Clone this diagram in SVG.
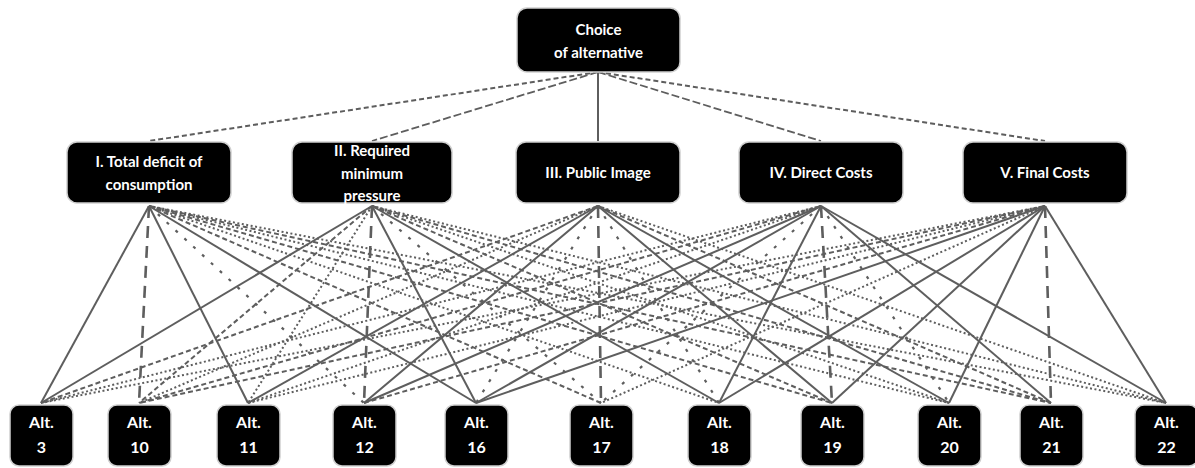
<svg xmlns="http://www.w3.org/2000/svg" width="1195" height="468" viewBox="0 0 1195 468">
<style>
.box{fill:#000;stroke:#cfcfcf;stroke-width:1.5}
.lbl{fill:#fff;font-family:Lato,"Liberation Sans",sans-serif;font-weight:bold;font-size:15px;text-anchor:middle}
.alt{font-size:16px}
line{stroke:#5e5e5e;fill:none}
.s{stroke-width:2}
.d{stroke-width:2;stroke-dasharray:5 3}
.t{stroke-width:2;stroke-dasharray:2 2.5}
.p{stroke-width:2.2;stroke-dasharray:3 9}
.l{stroke-width:2.6;stroke-dasharray:12 8}
.m{stroke-width:1.8;stroke-dasharray:8 3}
</style>
<rect width="1195" height="468" fill="#fff"/>
<g id="connectors">
<line class="d" x1="598" y1="72" x2="149" y2="141"/>
<line class="m" x1="598" y1="72" x2="372" y2="141"/>
<line class="s" x1="598" y1="72" x2="598" y2="141"/>
<line class="m" x1="598" y1="72" x2="821" y2="141"/>
<line class="d" x1="598" y1="72" x2="1045" y2="141"/>
<!-- I -->
<line class="s" x1="149" y1="206" x2="41" y2="403"/>
<line class="l" x1="149" y1="206" x2="139" y2="403"/>
<line class="s" x1="149" y1="206" x2="248" y2="403"/>
<line class="p" x1="149" y1="206" x2="364" y2="403"/>
<line class="s" x1="149" y1="206" x2="476" y2="403"/>
<line class="d" x1="149" y1="206" x2="601" y2="403"/>
<line class="t" x1="149" y1="206" x2="719" y2="403"/>
<line class="d" x1="149" y1="206" x2="832" y2="403"/>
<line class="t" x1="149" y1="206" x2="949" y2="403"/>
<line class="d" x1="149" y1="206" x2="1051" y2="403"/>
<line class="t" x1="149" y1="206" x2="1166" y2="403"/>
<!-- II -->
<line class="s" x1="372" y1="206" x2="41" y2="403"/>
<line class="d" x1="372" y1="206" x2="139" y2="403"/>
<line class="t" x1="372" y1="206" x2="248" y2="403"/>
<line class="l" x1="372" y1="206" x2="364" y2="403"/>
<line class="s" x1="372" y1="206" x2="476" y2="403"/>
<line class="p" x1="372" y1="206" x2="601" y2="403"/>
<line class="s" x1="372" y1="206" x2="719" y2="403"/>
<line class="d" x1="372" y1="206" x2="832" y2="403"/>
<line class="t" x1="372" y1="206" x2="949" y2="403"/>
<line class="d" x1="372" y1="206" x2="1051" y2="403"/>
<line class="t" x1="372" y1="206" x2="1166" y2="403"/>
<!-- III -->
<line class="d" x1="598" y1="206" x2="41" y2="403"/>
<line class="t" x1="598" y1="206" x2="139" y2="403"/>
<line class="s" x1="598" y1="206" x2="248" y2="403"/>
<line class="s" x1="598" y1="206" x2="364" y2="403"/>
<line class="p" x1="598" y1="206" x2="476" y2="403"/>
<line class="l" x1="598" y1="206" x2="601" y2="403"/>
<line class="p" x1="598" y1="206" x2="719" y2="403"/>
<line class="s" x1="598" y1="206" x2="832" y2="403"/>
<line class="s" x1="598" y1="206" x2="949" y2="403"/>
<line class="d" x1="598" y1="206" x2="1051" y2="403"/>
<line class="t" x1="598" y1="206" x2="1166" y2="403"/>
<!-- IV -->
<line class="t" x1="821" y1="206" x2="41" y2="403"/>
<line class="d" x1="821" y1="206" x2="139" y2="403"/>
<line class="t" x1="821" y1="206" x2="248" y2="403"/>
<line class="s" x1="821" y1="206" x2="364" y2="403"/>
<line class="s" x1="821" y1="206" x2="476" y2="403"/>
<line class="p" x1="821" y1="206" x2="601" y2="403"/>
<line class="s" x1="821" y1="206" x2="719" y2="403"/>
<line class="l" x1="821" y1="206" x2="832" y2="403"/>
<line class="p" x1="821" y1="206" x2="949" y2="403"/>
<line class="s" x1="821" y1="206" x2="1051" y2="403"/>
<line class="s" x1="821" y1="206" x2="1166" y2="403"/>
<!-- V -->
<line class="t" x1="1045" y1="206" x2="41" y2="403"/>
<line class="d" x1="1045" y1="206" x2="139" y2="403"/>
<line class="t" x1="1045" y1="206" x2="248" y2="403"/>
<line class="d" x1="1045" y1="206" x2="364" y2="403"/>
<line class="s" x1="1045" y1="206" x2="476" y2="403"/>
<line class="t" x1="1045" y1="206" x2="601" y2="403"/>
<line class="s" x1="1045" y1="206" x2="719" y2="403"/>
<line class="s" x1="1045" y1="206" x2="832" y2="403"/>
<line class="s" x1="1045" y1="206" x2="949" y2="403"/>
<line class="l" x1="1045" y1="206" x2="1051" y2="403"/>
<line class="s" x1="1045" y1="206" x2="1166" y2="403"/>
</g>
<g id="goal"><rect class="box" x="517" y="8" width="163" height="64" rx="10"/><text class="lbl" x="598.5" y="35">Choice</text><text class="lbl" x="598.5" y="58">of alternative</text></g>
<g id="c1"><rect class="box" x="67" y="142" width="164" height="61" rx="10"/><text class="lbl" x="149" y="167">I. Total deficit of</text><text class="lbl" x="149" y="190">consumption</text></g>
<g id="c2"><rect class="box" x="292" y="142" width="160" height="61" rx="10"/><text class="lbl" x="372" y="156">II. Required</text><text class="lbl" x="372" y="179">minimum</text><text class="lbl" x="372" y="201">pressure</text></g>
<g id="c3"><rect class="box" x="516" y="142" width="164" height="61" rx="10"/><text class="lbl" x="598" y="178">III. Public Image</text></g>
<g id="c4"><rect class="box" x="739" y="142" width="164" height="61" rx="10"/><text class="lbl" x="821" y="178">IV. Direct Costs</text></g>
<g id="c5"><rect class="box" x="963" y="142" width="164" height="61" rx="10"/><text class="lbl" x="1045" y="178">V. Final Costs</text></g>
<g id="a3"><rect class="box" x="10" y="405" width="63" height="61" rx="9"/><text class="lbl alt" x="41.5" y="428">Alt.</text><text class="lbl alt" x="41.5" y="453">3</text></g>
<g id="a10"><rect class="box" x="108" y="405" width="63" height="61" rx="9"/><text class="lbl alt" x="139.5" y="428">Alt.</text><text class="lbl alt" x="139.5" y="453">10</text></g>
<g id="a11"><rect class="box" x="217" y="405" width="63" height="61" rx="9"/><text class="lbl alt" x="248.5" y="428">Alt.</text><text class="lbl alt" x="248.5" y="453">11</text></g>
<g id="a12"><rect class="box" x="333" y="405" width="63" height="61" rx="9"/><text class="lbl alt" x="364.5" y="428">Alt.</text><text class="lbl alt" x="364.5" y="453">12</text></g>
<g id="a16"><rect class="box" x="445" y="405" width="63" height="61" rx="9"/><text class="lbl alt" x="476.5" y="428">Alt.</text><text class="lbl alt" x="476.5" y="453">16</text></g>
<g id="a17"><rect class="box" x="570" y="405" width="63" height="61" rx="9"/><text class="lbl alt" x="601.5" y="428">Alt.</text><text class="lbl alt" x="601.5" y="453">17</text></g>
<g id="a18"><rect class="box" x="688" y="405" width="63" height="61" rx="9"/><text class="lbl alt" x="719.5" y="428">Alt.</text><text class="lbl alt" x="719.5" y="453">18</text></g>
<g id="a19"><rect class="box" x="801" y="405" width="63" height="61" rx="9"/><text class="lbl alt" x="832.5" y="428">Alt.</text><text class="lbl alt" x="832.5" y="453">19</text></g>
<g id="a20"><rect class="box" x="918" y="405" width="63" height="61" rx="9"/><text class="lbl alt" x="949.5" y="428">Alt.</text><text class="lbl alt" x="949.5" y="453">20</text></g>
<g id="a21"><rect class="box" x="1020" y="405" width="63" height="61" rx="9"/><text class="lbl alt" x="1051.5" y="428">Alt.</text><text class="lbl alt" x="1051.5" y="453">21</text></g>
<g id="a22"><rect class="box" x="1135" y="405" width="63" height="61" rx="9"/><text class="lbl alt" x="1166.5" y="428">Alt.</text><text class="lbl alt" x="1166.5" y="453">22</text></g>
</svg>
